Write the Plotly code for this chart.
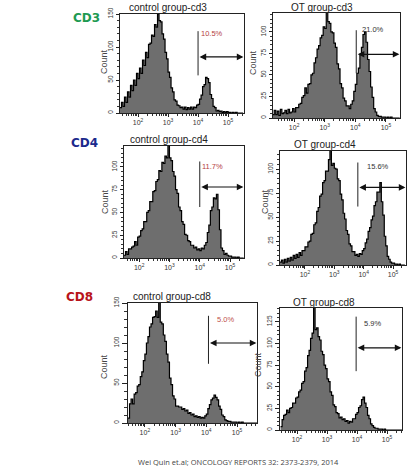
import math
import plotly.graph_objects as go

W, H = 414, 472

# ---------------- data (log10 fluorescence bins, step 0.05) ----------------
step = 0.05

c_cd3_start = 1.40
c_cd3_counts = [8, 16, 10, 24, 16, 32, 24, 42, 34, 50, 42, 60, 52, 68, 60, 80, 72, 92, 84, 104,
                106, 118, 116, 134, 130, 150, 140, 138, 120, 112, 92, 82, 62, 54, 38, 32, 20, 18, 12, 11,
                8, 9, 6, 9, 5, 8, 6, 9, 6, 9, 8, 12, 13, 21, 27, 40, 43, 54, 52, 46,
                28, 22, 10, 8, 3, 4, 2, 3, 1, 2, 1, 2, 1, 1, 0, 1, 0, 1, 0, 0,
                0, 0, 0]

ot_cd3_start = 1.30
ot_cd3_counts = [4, 9, 4, 8, 3, 10, 5, 6, 9, 5, 10, 6, 7, 11, 7, 12, 12, 16, 17, 24,
                 26, 35, 29, 39, 40, 50, 52, 64, 70, 80, 84, 93, 96, 106, 104, 130, 112, 110, 100, 99,
                 87, 82, 63, 57, 40, 35, 23, 20, 14, 14, 11, 16, 20, 31, 39, 52, 58, 74, 82, 97,
                 100, 88, 68, 54, 36, 24, 11, 7, 3, 2, 2, 1, 1, 1, 0, 1, 0, 1, 0, 0,
                 0, 0, 0, 0]

c_cd4_start = 1.50
c_cd4_counts = [3, 7, 4, 10, 10, 12, 13, 18, 14, 23, 24, 30, 32, 40, 40, 50, 52, 62, 62, 73,
                74, 84, 86, 96, 95, 105, 104, 112, 110, 125, 110, 107, 95, 90, 75, 71, 56, 52, 40, 37,
                26, 25, 19, 18, 14, 14, 11, 12, 9, 10, 8, 11, 10, 14, 17, 28, 36, 52, 56, 66,
                65, 70, 53, 31, 11, 8, 4, 5, 3, 2, 2, 1, 1, 1, 0, 1, 0, 0, 0, 0]

ot_cd4_start = 1.15
ot_cd4_counts = [3, 5, 2, 6, 3, 7, 4, 8, 5, 10, 7, 11, 8, 13, 10, 15, 15, 19, 19, 24,
                 25, 32, 33, 42, 44, 56, 60, 72, 74, 86, 88, 98, 98, 110, 125, 104, 106, 101, 100, 90,
                 88, 74, 68, 54, 48, 36, 32, 22, 20, 14, 14, 10, 11, 9, 12, 11, 15, 17, 23, 27,
                 35, 39, 47, 51, 62, 66, 76, 76, 86, 66, 52, 30, 20, 9, 6, 3, 2, 2, 1, 1,
                 0, 1, 0, 0, 0, 0]

c_cd8_start = 1.45
c_cd8_counts = [6, 24, 30, 24, 36, 38, 46, 48, 58, 64, 78, 86, 100, 108, 120, 124, 132, 133, 140, 132,
                152, 126, 124, 110, 102, 86, 76, 56, 48, 34, 30, 21, 21, 20, 20, 17, 18, 15, 16, 12,
                13, 10, 11, 8, 9, 7, 8, 6, 7, 6, 9, 11, 18, 23, 29, 31, 35, 32, 29, 21,
                17, 10, 8, 4, 3, 2, 2, 1, 1, 1, 1, 0, 1, 0, 1, 0, 0, 0, 0, 0,
                0, 0, 0, 0, 0]

ot_cd8_start = 1.45
ot_cd8_counts = [4, 12, 17, 18, 23, 20, 25, 26, 31, 31, 37, 38, 44, 46, 54, 56, 68, 72, 86, 92,
                 106, 112, 150, 116, 118, 108, 104, 91, 87, 75, 71, 59, 56, 44, 40, 29, 27, 20, 19, 14,
                 15, 12, 13, 10, 11, 8, 10, 9, 13, 13, 18, 20, 26, 28, 35, 38, 31, 26, 17, 13,
                 7, 5, 3, 2, 2, 1, 1, 1, 0, 1, 0, 0, 0, 0, 0, 0, 0, 0, 0, 0,
                 0, 0]

titles = ["control group-cd3", "OT group-cd3", "control group-cd4",
          "OT group-cd4", "control group-cd8", "OT group-cd8"]
gate_labels = ["10.5%", "21.0%", "11.7%", "15.6%", "5.0%", "5.9%"]
x_tick_vals = [2, 3, 4, 5]
x_tick_text = ["10<sup>2</sup>", "10<sup>3</sup>", "10<sup>4</sup>", "10<sup>5</sup>"]
row_labels = ["CD3", "CD4", "CD8"]
y_title = "Count"
footer = "Wei Quin et.al; ONCOLOGY REPORTS 32: 2373-2379, 2014"

series = [(c_cd3_start, c_cd3_counts), (ot_cd3_start, ot_cd3_counts),
          (c_cd4_start, c_cd4_counts), (ot_cd4_start, ot_cd4_counts),
          (c_cd8_start, c_cd8_counts), (ot_cd8_start, ot_cd8_counts)]

# gate: (x of gate line, line top, line bottom, arrow y, label x, label y)
gates = [(4.00, 124, 57, 85, 4.45, 120),
         (4.03, 102, 52, 74, 4.59, 103),
         (4.00, 106, 56, 78, 4.43, 101),
         (3.80, 107, 61, 81, 4.50, 103),
         (4.07, 134, 74, 100, 4.63, 130),
         (3.97, 131, 68, 95, 4.53, 123)]

# ---------------- layout (pixel boxes in window coordinates) ----------------
boxes = [(120, 244, 14, 113), (273, 400, 13, 118),
         (124, 244, 146, 258), (280, 406, 151, 265),
         (128, 257, 303, 423), (280, 402, 308, 430)]
x_ranges = [(1.40, 5.53), (1.31, 5.46), (1.50, 5.46), (1.15, 5.44), (1.45, 5.65), (1.43, 5.50)]
y_tops = [150, 122, 123, 119, 150, 141]
y_major = [50, 25, 25, 25, 50, 25]
y_minor = [10, 5, 5, 5, 10, 5]
y_ticklen = [(3, 2), (3, 2), (3, 2), (3, 2), (5, 3), (4, 2)]
title_pos = [(168, 8), (322, 8), (169, 139), (325, 144), (172, 296), (324, 302)]
count_pos = [(104, 62), (253, 63), (105, 202), (265, 202), (104, 367), (258, 365)]
label_colors = ["#b5403f", "#333333", "#b5403f", "#333333", "#c0504d", "#333333"]
row_pos = [(86, 18), (84, 143), (79, 297)]
row_colors = ["#1e9a52", "#1c2a8c", "#b8141a"]


def px(x):
    return x / W


def py(y):
    return 1 - y / H


minor_x = []
for d in range(1, 6):
    for k in range(2, 10):
        minor_x.append(d + math.log10(k))

fig = go.Figure()
annotations = []
shapes = []

for i in range(6):
    n = i + 1
    xs = "" if n == 1 else str(n)
    start, counts = series[i]
    bins = [start + step * j for j in range(len(counts))]
    fig.add_trace(go.Scatter(
        x=bins, y=counts, mode="lines", line_shape="hv",
        line=dict(color="black", width=1.2), fill="tozeroy",
        fillcolor="#6e6e6e", xaxis="x" + xs, yaxis="y" + xs,
        showlegend=False, hoverinfo="skip"))

    x0, x1, y0, y1 = boxes[i]
    fig.layout["xaxis" + xs] = dict(
        domain=[px(x0), px(x1)], range=list(x_ranges[i]), anchor="y" + xs,
        automargin=False,
        showline=True, mirror=True, linecolor="#222", linewidth=1,
        ticks="outside", ticklen=3, tickcolor="#222",
        tickvals=x_tick_vals, ticktext=x_tick_text,
        tickfont=dict(family="Liberation Sans", size=7, color="#333"),
        minor=dict(tickvals=minor_x, ticks="outside", ticklen=2, tickcolor="#333"),
        showgrid=False, zeroline=False, fixedrange=True)
    top = y_tops[i]
    tl_major, tl_minor = y_ticklen[i]
    fig.layout["yaxis" + xs] = dict(
        domain=[py(y1), py(y0)], range=[0, top], anchor="x" + xs,
        automargin=False,
        showline=True, mirror=True, linecolor="#222", linewidth=1,
        ticks="outside", ticklen=tl_major, tickcolor="#222",
        tickvals=list(range(0, top + 1, y_major[i])), tickangle=-90,
        tickfont=dict(family="Liberation Sans", size=6.5, color="#333"),
        minor=dict(dtick=y_minor[i], ticks="outside", ticklen=tl_minor, tickcolor="#333"),
        showgrid=False, zeroline=False, fixedrange=True)

    cx, cy = count_pos[i]
    annotations.append(dict(xref="paper", yref="paper", x=px(cx), y=py(cy), text=y_title,
                            textangle=-90, showarrow=False, xanchor="center", yanchor="middle",
                            font=dict(family="Liberation Sans", size=9, color="#444")))

    gx, gt, gb, ay, lx, ly = gates[i]
    shapes.append(dict(type="line", xref="x" + xs, yref="y" + xs,
                       x0=gx, x1=gx, y0=gb, y1=gt, line=dict(color="#222", width=1)))
    annotations.append(dict(xref="x" + xs, yref="y" + xs, axref="x" + xs, ayref="y" + xs,
                            x=x_ranges[i][1] - 0.02, y=ay, ax=gx, ay=ay, text="",
                            showarrow=True, arrowside="end+start", arrowhead=2,
                            arrowsize=1.1, arrowwidth=1.2, arrowcolor="#111"))
    annotations.append(dict(xref="x" + xs, yref="y" + xs, x=lx, y=ly, text=gate_labels[i],
                            showarrow=False, xanchor="center", yanchor="middle",
                            font=dict(family="Liberation Sans", size=7.5, color=label_colors[i])))
    tx, ty = title_pos[i]
    annotations.append(dict(xref="paper", yref="paper", x=px(tx), y=py(ty),
                            text=titles[i], showarrow=False, xanchor="center", yanchor="middle",
                            font=dict(family="Liberation Sans", size=10, color="#222")))

for k in range(3):
    rx, ry = row_pos[k]
    annotations.append(dict(xref="paper", yref="paper", x=px(rx), y=py(ry),
                            text="<b>" + row_labels[k] + "</b>", showarrow=False,
                            xanchor="center", yanchor="middle",
                            font=dict(family="DejaVu Sans", size=12, color=row_colors[k])))

annotations.append(dict(xref="paper", yref="paper", x=px(238), y=py(462), text=footer,
                        showarrow=False, xanchor="center", yanchor="middle",
                        font=dict(family="Open Sans", size=7.5, color="#444")))

fig.update_layout(width=W, height=H, margin=dict(l=0, r=0, t=0, b=0, pad=0, autoexpand=False),
                  paper_bgcolor="white", plot_bgcolor="white",
                  annotations=annotations, shapes=shapes, showlegend=False)

fig.write_html("out.html", config={"displayModeBar": False},
               post_script="document.body.style.margin='0px';document.body.style.overflow='hidden';")
